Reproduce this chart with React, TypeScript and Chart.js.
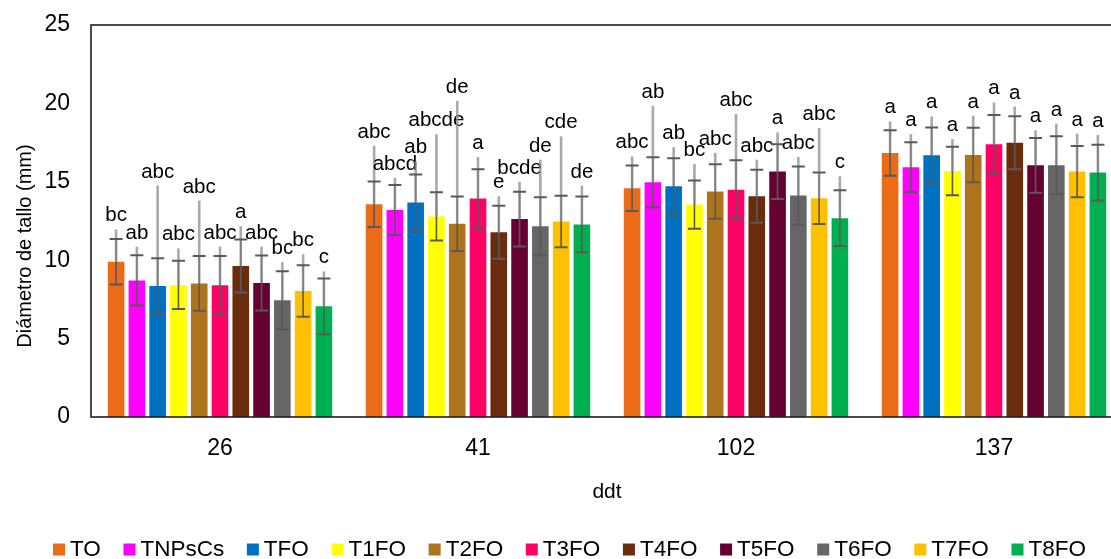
import { useEffect, useRef } from "react";
import { Chart, registerables } from "chart.js";

Chart.register(...registerables);

// ---------- data ----------
const categorias = ["26", "41", "102", "137"];
const tratamientos = ["TO", "TNPsCs", "TFO", "T1FO", "T2FO", "T3FO", "T4FO", "T5FO", "T6FO", "T7FO", "T8FO"];
const colores = ["#EB6B19", "#FF00FF", "#0070C0", "#FFFF00", "#AD741D", "#FF0066", "#6B2C0E", "#660033", "#666666", "#FFC000", "#00B050"];

// means per ddt (one value per treatment, in the order of `tratamientos`)
const medias26 = [9.9, 8.71, 8.35, 8.42, 8.52, 8.4, 9.63, 8.55, 7.44, 8.04, 7.06];
const medias41 = [13.57, 13.2, 13.68, 12.79, 12.32, 13.93, 11.79, 12.62, 12.17, 12.47, 12.28];
const medias102 = [14.59, 14.97, 14.72, 13.55, 14.38, 14.5, 14.08, 15.65, 14.12, 13.95, 12.68];
const medias137 = [16.84, 15.93, 16.69, 15.69, 16.71, 17.39, 17.49, 16.05, 16.05, 15.65, 15.59];

// standard deviation per treatment (dark error bars)
const desviacion = [1.45, 1.6, 1.78, 1.54, 1.74, 1.87, 1.69, 1.75, 1.85, 1.64, 1.78];

// upper end of the light grey bars
const superior26 = [11.96, 10.86, 14.76, 10.75, 13.8, 10.86, 12.17, 10.86, 9.88, 10.37, 9.29];
const superior41 = [17.3, 15.25, 16.3, 18.04, 20.17, 16.58, 14.08, 15.0, 16.41, 17.9, 14.76];
const superior102 = [16.62, 19.85, 17.2, 16.13, 16.84, 19.32, 16.41, 18.15, 16.58, 18.43, 15.35];
const superior137 = [18.85, 18.04, 19.17, 17.73, 19.21, 20.06, 19.8, 18.28, 18.7, 18.07, 17.99];

// significance letters
const letras26 = ["bc", "ab", "abc", "abc", "abc", "abc", "a", "abc", "bc", "bc", "c"];
const letras41 = ["abc", "abcd", "ab", "abcde", "de", "a", "e", "bcde", "de", "cde", "de"];
const letras102 = ["abc", "ab", "ab", "bc", "abc", "abc", "abc", "a", "abc", "abc", "c"];
const letras137 = ["a", "a", "a", "a", "a", "a", "a", "a", "a", "a", "a"];

const yTicks = [0, 5, 10, 15, 20, 25];
const tituloY = "Diámetro de tallo (mm)";
const tituloX = "ddt";

const medias = [medias26, medias41, medias102, medias137];
const superiores = [superior26, superior41, superior102, superior137];
const letras = [letras26, letras41, letras102, letras137];

const FONT = "'Liberation Sans', Arial, sans-serif";
const W = 1140;
const H = 559;
const TOP = 25;
const BOTTOM = 417;

const extras = {
  id: "extras",
  afterDatasetsDraw(chart: any) {
    const ctx = chart.ctx;
    const ys = chart.scales.y;
    ctx.save();
    chart.data.datasets.forEach((_: any, i: number) => {
      const meta = chart.getDatasetMeta(i);
      meta.data.forEach((bar: any, j: number) => {
        const x = bar.x;
        const m = medias[j][i];
        const s = desviacion[i];
        const yM = ys.getPixelForValue(m);
        const yLo = ys.getPixelForValue(m - s);
        const yHi = ys.getPixelForValue(m + s);
        const yUp = ys.getPixelForValue(superiores[j][i]);
        ctx.strokeStyle = "#595959";
        ctx.lineWidth = 1.6;
        ctx.beginPath();
        ctx.moveTo(x, yLo);
        ctx.lineTo(x, yHi);
        ctx.stroke();
        ctx.strokeStyle = "rgba(140,140,140,0.75)";
        ctx.lineWidth = 2.6;
        ctx.beginPath();
        ctx.moveTo(x, yM);
        ctx.lineTo(x, yUp);
        ctx.stroke();
        ctx.strokeStyle = "#595959";
        ctx.lineWidth = 2;
        ctx.beginPath();
        ctx.moveTo(x - 6.5, yLo);
        ctx.lineTo(x + 6.5, yLo);
        ctx.moveTo(x - 6.5, yHi);
        ctx.lineTo(x + 6.5, yHi);
        ctx.stroke();
        ctx.fillStyle = "#000";
        ctx.font = `20.5px ${FONT}`;
        ctx.textAlign = "center";
        ctx.textBaseline = "alphabetic";
        ctx.fillText(letras[j][i], x, yUp - 8);
      });
    });
    ctx.restore();
  },
  afterDraw(chart: any) {
    const ctx = chart.ctx;
    const a = chart.chartArea;
    ctx.save();
    ctx.strokeStyle = "#1e1e1e";
    ctx.lineWidth = 1.6;
    ctx.strokeRect(a.left, a.top, a.right - a.left, a.bottom - a.top);

    ctx.fillStyle = "#000";
    ctx.font = `20px ${FONT}`;
    ctx.textAlign = "center";
    ctx.textBaseline = "alphabetic";
    ctx.save();
    ctx.translate(31, 246);
    ctx.rotate(-Math.PI / 2);
    ctx.fillText(tituloY, 0, 0);
    ctx.restore();

    ctx.font = `21px ${FONT}`;
    ctx.fillText(tituloX, (a.left + a.right) / 2, 498);

    ctx.font = `22.5px ${FONT}`;
    ctx.textAlign = "left";
    const box = 12;
    const gapBox = 5;
    const widths = tratamientos.map((t) => ctx.measureText(t).width);
    const startX = 53;
    const endX = 1086;
    const used = widths.reduce((s, w) => s + w + box + gapBox, 0);
    const gap = (endX - startX - used) / (tratamientos.length - 1);
    let x = startX;
    const base = 556;
    tratamientos.forEach((t, i) => {
      ctx.fillStyle = colores[i];
      ctx.fillRect(x, base - 12.5, box, box);
      ctx.fillStyle = "#000";
      ctx.fillText(t, x + box + gapBox, base);
      x += box + gapBox + widths[i] + gap;
    });
    ctx.restore();
  },
};

export default function App() {
  const ref = useRef<HTMLCanvasElement>(null);
  useEffect(() => {
    if (!ref.current) return;
    const chart = new Chart(ref.current, {
      type: "bar",
      data: {
        labels: categorias,
        datasets: tratamientos.map((t, i) => ({
          label: t,
          data: medias.map((arr) => arr[i]),
          backgroundColor: colores[i],
          borderWidth: 0,
          categoryPercentage: 0.886,
          barPercentage: 0.8,
        })),
      },
      options: {
        responsive: false,
        animation: false,
        layout: { padding: { left: 0, right: W - 1123, top: TOP, bottom: 0 } },
        plugins: {
          legend: { display: false },
          tooltip: { enabled: false },
          title: { display: false },
        },
        scales: {
          x: {
            grid: { display: false, drawTicks: false },
            border: { display: false },
            ticks: { font: { size: 23, family: FONT }, color: "#000", padding: 18 },
            afterFit: (s: any) => {
              s.height = H - BOTTOM;
              s.paddingLeft = 0;
              s.paddingRight = 0;
            },
          },
          y: {
            min: 0,
            max: 25,
            afterBuildTicks: (s: any) => {
              s.ticks = yTicks.map((v) => ({ value: v }));
            },
            grid: { display: false, drawTicks: false },
            border: { display: false },
            ticks: { font: { size: 23, family: FONT }, color: "#000", padding: 21 },
            afterFit: (s: any) => {
              s.width = 91;
              s.paddingTop = 0;
              s.paddingBottom = 0;
            },
          },
        },
      },
      plugins: [extras],
    });
    return () => chart.destroy();
  }, []);
  return (
    <div
      style={{
        position: "fixed",
        left: 0,
        top: 0,
        width: 1111,
        height: H,
        overflow: "hidden",
        background: "#fff",
      }}
    >
      <canvas ref={ref} width={W} height={H} style={{ display: "block" }} />
    </div>
  );
}
